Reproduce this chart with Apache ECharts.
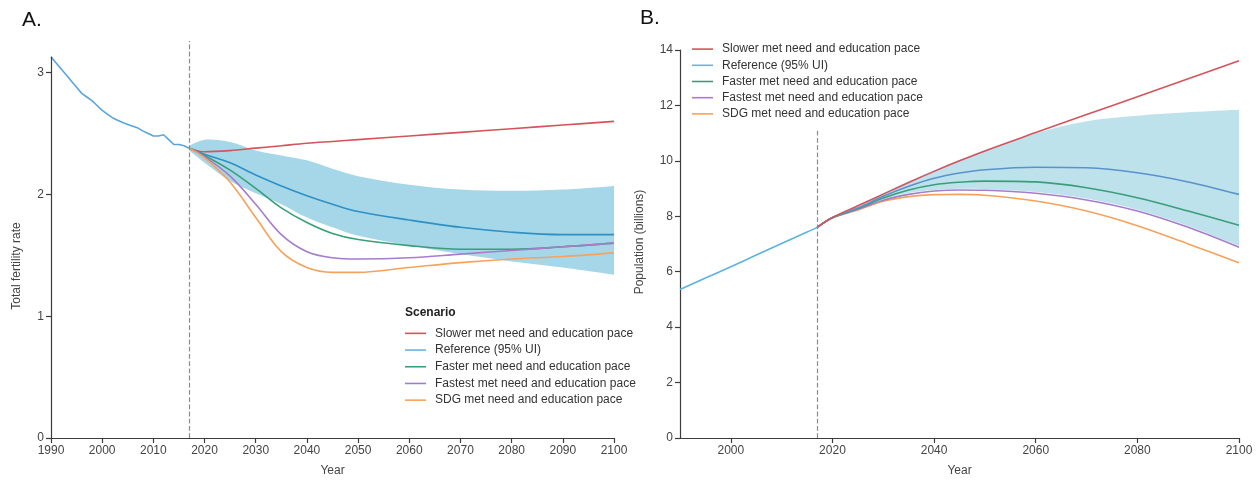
<!DOCTYPE html>
<html><head><meta charset="utf-8">
<script src="https://cdn.jsdelivr.net/npm/echarts@6/dist/echarts.min.js"></script>
<style>html,body{margin:0;padding:0;background:#fff}#c{width:1260px;height:482px}</style>
</head><body><div id="c"></div>
<script>
// ---- Panel A: total fertility rate ----
const histYearsA = [1990,1991,1992,1993,1994,1995,1996,1997,1998,1999,2000,2001,2002,2003,2004,2005,2006,2007,2008,2009,2010,2011,2012,2013,2014,2015,2016,2017];
const tfrHist = [3.13,3.08,3.03,2.98,2.93,2.88,2.83,2.80,2.77,2.73,2.69,2.66,2.63,2.61,2.59,2.575,2.56,2.545,2.52,2.50,2.48,2.48,2.49,2.45,2.41,2.41,2.40,2.38];
const projYears = [2017,2020,2025,2030,2035,2040,2045,2050,2060,2070,2080,2090,2100];
const tfrSlower   = [2.38,2.35,2.36,2.38,2.40,2.42,2.435,2.45,2.48,2.51,2.54,2.57,2.60];
const tfrReference= [2.38,2.33,2.26,2.16,2.07,1.99,1.92,1.86,1.79,1.73,1.69,1.67,1.67];
const tfrFaster   = [2.38,2.32,2.20,2.05,1.89,1.77,1.68,1.63,1.58,1.55,1.55,1.57,1.60];
const tfrFastest  = [2.38,2.31,2.15,1.92,1.67,1.53,1.48,1.47,1.48,1.51,1.54,1.57,1.60];
const tfrSdg      = [2.38,2.30,2.10,1.81,1.53,1.40,1.36,1.36,1.40,1.44,1.47,1.49,1.52];
const tfrUpper    = [2.40,2.45,2.43,2.36,2.32,2.28,2.21,2.15,2.08,2.04,2.03,2.04,2.07];
const tfrLower    = [2.36,2.26,2.11,2.01,1.92,1.81,1.73,1.66,1.58,1.51,1.45,1.40,1.34];
const tfrTicks = [0,1,2,3];

// ---- Panel B: population (billions) ----
const histYearsB = [1990,1995,2000,2005,2010,2015,2017];
const popHist = [5.36,5.77,6.18,6.60,7.02,7.43,7.60];
const popSlower   = [7.60,7.96,8.38,8.80,9.22,9.62,10.00,10.36,11.02,11.67,12.31,12.96,13.61];
const popReference= [7.60,7.96,8.30,8.72,9.08,9.37,9.56,9.68,9.77,9.75,9.57,9.24,8.79];
const popFaster   = [7.60,7.95,8.28,8.66,8.95,9.14,9.23,9.27,9.24,9.03,8.67,8.19,7.68];
const popFastest  = [7.60,7.95,8.25,8.58,8.79,8.91,8.95,8.94,8.83,8.59,8.19,7.60,6.88];
const popSdg      = [7.60,7.94,8.23,8.54,8.71,8.78,8.79,8.76,8.55,8.19,7.66,7.00,6.32];
const popUpper    = [7.60,7.97,8.40,8.84,9.26,9.66,10.03,10.39,11.00,11.43,11.63,11.75,11.84];
const popLower    = [7.60,7.94,8.26,8.61,8.84,8.95,8.99,8.98,8.88,8.64,8.24,7.65,6.93];
const popXTicks = [2000,2020,2040,2060,2080,2100];

const scenarioNames = ['Slower met need and education pace','Reference (95% UI)','Faster met need and education pace','Fastest met need and education pace','SDG met need and education pace'];
const baseYear = 2017;

const FONT = '"Liberation Sans", Arial, sans-serif';
const AX = '#3c3c3c', LBL = '#444';
const C = {red:'#d4545b', refA:'#2f90c6', refB:'#5a92cc', refLegend:'#6bb4de', histA:'#5aa6da', histB:'#5cb3e0', green:'#3a9e78', purple:'#a67ccb', orange:'#f7a25c', bandA:'#a5d7e8', bandB:'#bde2ec'};

const zip = (xs, ys) => xs.map((x,i)=>[x,ys[i]]);

function line(name, xi, xs, ys, color, extra) {
  return Object.assign({name, type:'line', xAxisIndex:xi, yAxisIndex:xi, data:zip(xs,ys), smooth:0.35, symbol:'none',
    lineStyle:{color, width:1.6}, itemStyle:{color}, emphasis:{disabled:true}, silent:true, z:3}, extra||{});
}
// smooth edge through pixel points (same idea as the line smoothing)
function smoothSegs(pts, s, first) {
  const n = pts.length, cpB = [], cpA = [];
  for (let i=0;i<n;i++){
    const p = pts[i];
    if (i===0 || i===n-1){ cpB.push(p); cpA.push(p); continue; }
    const pr = pts[i-1], nx = pts[i+1];
    const vx = nx[0]-pr[0], vy = nx[1]-pr[1];
    const d0 = Math.hypot(p[0]-pr[0], p[1]-pr[1]), d1 = Math.hypot(nx[0]-p[0], nx[1]-p[1]);
    const r0 = d0/(d0+d1), r1 = d1/(d0+d1);
    cpB.push([p[0]-vx*s*r0, p[1]-vy*s*r0]);
    cpA.push([p[0]+vx*s*r1, p[1]+vy*s*r1]);
  }
  let d = (first ? 'M' : 'L') + pts[0][0] + ',' + pts[0][1];
  for (let i=0;i<n-1;i++){
    d += ' C' + cpA[i][0] + ',' + cpA[i][1] + ' ' + cpB[i+1][0] + ',' + cpB[i+1][1] + ' ' + pts[i+1][0] + ',' + pts[i+1][1];
  }
  return d;
}
function band(xi, lower, upper, color) {
  return {
    type:'custom', xAxisIndex:xi, yAxisIndex:xi, silent:true, z:1,
    data: projYears.map((y,i)=>[y, lower[i], upper[i]]),
    encode:{x:0, y:[1,2]},
    renderItem:(params, api) => {
      if (params.dataIndex !== 0) return null;
      const top = projYears.map((y,i)=>api.coord([y, upper[i]]));
      const bot = projYears.map((y,i)=>api.coord([y, lower[i]])).reverse();
      const d = smoothSegs(top, 0.35, true) + ' ' + smoothSegs(bot, 0.35, false) + ' Z';
      return {type:'path', shape:{pathData:d}, style:{fill:color}};
    }
  };
}
const dashed = {type:'dashed', color:'#7f8f99', width:1.2};

function xAxisCommon(gi, extra) {
  return Object.assign({gridIndex:gi, type:'value', min:1990, max:2100,
    axisLine:{show:true, onZero:false, lineStyle:{color:AX, width:1.2}},
    axisTick:{show:true, length:5, lineStyle:{color:AX, width:1.2}},
    axisLabel:{color:LBL, fontSize:12, fontFamily:FONT, margin:7, formatter:v=>String(v)},
    splitLine:{show:false},
    name:'Year', nameLocation:'middle', nameGap:27, nameTextStyle:{color:LBL, fontSize:12, fontFamily:FONT}}, extra);
}

const option = {
  animation:false,
  backgroundColor:'#fff',
  textStyle:{fontFamily:FONT},
  grid:[{left:51, right:646, top:41, bottom:41.5}, {left:680, right:21, top:50, bottom:42}],
  xAxis:[
    xAxisCommon(0, {interval:10}),
    xAxisCommon(1, {axisTick:{show:true, length:5, lineStyle:{color:AX, width:1.2}, customValues:popXTicks},
                    axisLabel:{color:LBL, fontSize:12, fontFamily:FONT, margin:7, formatter:v=>String(v), customValues:popXTicks}})
  ],
  yAxis:[
    {gridIndex:0, type:'value', min:0, max:3.26,
     axisLine:{show:false}, axisTick:{show:true, length:5, lineStyle:{color:AX, width:1.2}, customValues:tfrTicks},
     axisLabel:{color:LBL, fontSize:12, fontFamily:FONT, margin:7, customValues:tfrTicks}, splitLine:{show:false}},
    {gridIndex:1, type:'value', min:0, max:14, interval:2,
     axisLine:{show:true, lineStyle:{color:AX, width:1.2}}, axisTick:{show:true, length:5, lineStyle:{color:AX, width:1.2}},
     axisLabel:{color:LBL, fontSize:12, fontFamily:FONT, margin:7}, splitLine:{show:false}}
  ],
  legend:[
    {left:405, top:325, orient:'vertical', padding:0, itemGap:0, itemWidth:21, itemHeight:1.6, icon:'rect', selectedMode:false,
     textStyle:{color:'#333', fontSize:12, fontFamily:FONT, lineHeight:16.7, padding:[0,0,0,4]},
     data:scenarioNames.map((n,i)=> i===1 ? {name:n, itemStyle:{color:C.refLegend}} : {name:n})},
    {left:692, top:41, orient:'vertical', padding:0, itemGap:0, itemWidth:21, itemHeight:1.6, icon:'rect', selectedMode:false,
     textStyle:{color:'#333', fontSize:12, fontFamily:FONT, lineHeight:16.2, padding:[0,0,0,4]},
     data:scenarioNames.map((n,i)=> i===1 ? {name:n, itemStyle:{color:C.refLegend}} : {name:n})}
  ],
  graphic:[
    {type:'text', left:22, top:10, style:{text:'A.', font:'21px '+FONT, fill:'#111'}},
    {type:'text', left:640, top:8, style:{text:'B.', font:'21px '+FONT, fill:'#111'}},
    {type:'text', left:405, top:307, style:{text:'Scenario', font:'bold 12px '+FONT, fill:'#222'}},
    {type:'text', x:17, y:266, rotation:Math.PI/2, style:{text:'Total fertility rate', font:'12px '+FONT, fill:LBL, align:'center', verticalAlign:'middle'}},
    {type:'text', x:640, y:242, rotation:Math.PI/2, style:{text:'Population (billions)', font:'12px '+FONT, fill:LBL, align:'center', verticalAlign:'middle'}}
  ],
  series:[
    band(0, tfrLower, tfrUpper, C.bandA),
    line('hist', 0, histYearsA, tfrHist, C.histA, {smooth:false,
      markLine:{silent:true, symbol:'none', label:{show:false},
        data:[
          [{coord:[1990,0], lineStyle:{color:AX, width:1.2, type:'solid'}}, {coord:[1990,tfrHist[0]]}],
          [{coord:[baseYear,0], lineStyle:dashed}, {coord:[baseYear,3.26]}]
        ]}}),
    line(scenarioNames[0], 0, projYears, tfrSlower, C.red),
    line(scenarioNames[1], 0, projYears, tfrReference, C.refA),
    line(scenarioNames[2], 0, projYears, tfrFaster, C.green),
    line(scenarioNames[3], 0, projYears, tfrFastest, C.purple),
    line(scenarioNames[4], 0, projYears, tfrSdg, C.orange),

    band(1, popLower, popUpper, C.bandB),
    line('histB', 1, histYearsB, popHist, C.histB, {
      markLine:{silent:true, symbol:'none', label:{show:false},
        data:[[{coord:[baseYear,0], lineStyle:dashed}, {coord:[baseYear,11.1]}]]}}),
    line(scenarioNames[4], 1, projYears, popSdg, C.orange),
    line(scenarioNames[3], 1, projYears, popFastest, C.purple),
    line(scenarioNames[2], 1, projYears, popFaster, C.green),
    line(scenarioNames[1], 1, projYears, popReference, C.refB),
    line(scenarioNames[0], 1, projYears, popSlower, C.red)
  ]
};
const chart = echarts.init(document.getElementById('c'), null, {renderer:'canvas'});
chart.setOption(option);
</script>
</body></html>
